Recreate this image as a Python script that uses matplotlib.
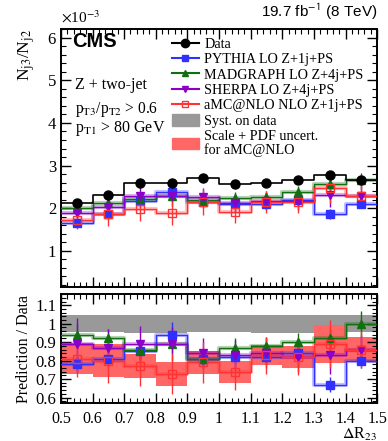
import numpy as np
import matplotlib.pyplot as plt
from matplotlib.lines import Line2D
from matplotlib.patches import Patch
from matplotlib.ticker import MultipleLocator

plt.rcParams['font.family'] = ['Liberation Serif', 'DejaVu Serif']
plt.rcParams['mathtext.fontset'] = 'stix'

# bins in delta R_23
edges = np.round(np.arange(0.5, 1.51, 0.1), 2)
centers = 0.5 * (edges[:-1] + edges[1:])

# N_j3/N_j2 (x 1e-3)
data = [2.13, 2.32, 2.58, 2.58, 2.72, 2.57, 2.60, 2.65, 2.79, 2.66]
pythia = [1.65, 1.87, 2.17, 2.39, 2.15, 2.10, 2.10, 2.20, 1.87, 2.10]
madgraph = [2.00, 2.13, 2.22, 2.29, 2.20, 2.24, 2.27, 2.38, 2.56, 2.65]
sherpa = [1.88, 2.03, 2.29, 2.29, 2.26, 2.12, 2.16, 2.17, 2.31, 2.28]
amcnlo = [1.73, 1.86, 1.99, 1.88, 2.14, 1.90, 2.15, 2.15, 2.48, 2.29]

# prediction / data
r_pythia = [0.78, 0.81, 0.85, 0.94, 0.81, 0.82, 0.82, 0.84, 0.67, 0.80]
r_madgraph = [0.94, 0.92, 0.86, 0.89, 0.81, 0.87, 0.88, 0.90, 0.92, 1.00]
r_sherpa = [0.89, 0.87, 0.89, 0.89, 0.84, 0.83, 0.84, 0.82, 0.83, 0.86]
r_amcnlo = [0.81, 0.80, 0.77, 0.73, 0.79, 0.74, 0.83, 0.82, 0.89, 0.86]

# stat errors on the ratio
e_pythia = [0.04, 0.04, 0.04, 0.07, 0.04, 0.04, 0.04, 0.04, 0.04, 0.04]
e_madgraph = [0.06, 0.05, 0.05, 0.05, 0.05, 0.05, 0.05, 0.05, 0.05, 0.07]
e_sherpa = [0.14, 0.10, 0.10, 0.09, 0.08, 0.08, 0.08, 0.08, 0.10, 0.08]
e_amcnlo = [0.10, 0.12, 0.11, 0.11, 0.11, 0.10, 0.10, 0.10, 0.13, 0.10]

# bands
syst_data = [0.045, 0.045, 0.048, 0.048, 0.045, 0.045, 0.048, 0.048, 0.045, 0.045]
scale_pdf = [0.085, 0.09, 0.065, 0.065, 0.06, 0.06, 0.055, 0.06, 0.105, 0.07]

c_py = '#3030ff'
c_mg = '#107010'
c_sh = '#8a00c8'
c_amc = '#ff3333'

fig = plt.figure(figsize=(3.88, 4.41), dpi=100)
ax1 = fig.add_axes([0.157, 0.349, 0.815, 0.585])
ax2 = fig.add_axes([0.157, 0.086, 0.815, 0.247])


def step(ax, vals, color, lw=1.0):
    v = np.append(vals, vals[-1])
    ax.step(edges, v, where='post', color=color, lw=3, alpha=0.3, zorder=2)
    ax.step(edges, v, where='post', color=color, lw=lw, zorder=3)


def band(ax, center, half, color):
    c = np.asarray(center)
    h = np.asarray(half)
    ax.fill_between(edges, np.append(c - h, (c - h)[-1]), np.append(c + h, (c + h)[-1]),
                    step='post', color=color, lw=0, zorder=1)


# ---- top panel
for vals, rel, col, mk, mfc in [(pythia, e_pythia, c_py, 's', c_py),
                                (madgraph, e_madgraph, c_mg, '^', c_mg),
                                (sherpa, e_sherpa, c_sh, 'v', c_sh),
                                (amcnlo, e_amcnlo, c_amc, 's', 'none')]:
    step(ax1, vals, col)
    err = np.asarray(rel) * np.asarray(data)
    ax1.errorbar(centers, vals, yerr=err, fmt=mk, color=col, mfc=mfc, mec=col,
                 ms=5.5, elinewidth=1, capsize=0, zorder=4)

ax1.step(edges, np.append(data, data[-1]), where='post', color='black', lw=1.2, zorder=5)
ax1.errorbar(centers, data, yerr=0.03, fmt='o', color='black', ms=6.5, capsize=0, zorder=6)

ax1.set_xlim(0.5, 1.5)
ax1.set_ylim(0.15, 6.2)
ax1.set_xticklabels([])
ax1.set_ylabel(r'N$_{\rm j3}$/N$_{\rm j2}$', fontsize=12.5, loc='top', labelpad=8)
ax1.text(0.0, 1.015, r'$\times$10$^{-3}$', transform=ax1.transAxes, fontsize=11,
         ha='left', va='bottom')
ax1.text(0.036, 0.99, 'CMS', transform=ax1.transAxes, fontsize=14.5, fontweight='bold',
         family=['Liberation Sans'], ha='left', va='top')
ax1.text(1.0, 1.027, r'19.7 fb$^{\mathsf{-1}}$ (8 TeV)', transform=ax1.transAxes,
         fontsize=11, family=['Liberation Sans'], ha='right', va='bottom')
ax1.text(0.045, 0.767, 'Z + two-jet', transform=ax1.transAxes, fontsize=11.5,
         ha='left', va='baseline')
ax1.text(0.045, 0.674, r'p$_{\rm T3}$/p$_{\rm T2}$ > 0.6', transform=ax1.transAxes,
         fontsize=11.2, ha='left', va='baseline')
ax1.text(0.045, 0.60, r'p$_{\rm T1}$ > 80 GeV', transform=ax1.transAxes,
         fontsize=11.5, ha='left', va='baseline')

handles = [
    Line2D([], [], color='black', marker='o', ms=6),
    Line2D([], [], color=c_py, marker='s', ms=5),
    Line2D([], [], color=c_mg, marker='^', ms=5),
    Line2D([], [], color=c_sh, marker='v', ms=5),
    Line2D([], [], color=c_amc, marker='s', ms=5, mfc='none'),
    Patch(color='#999999'),
    Patch(color='#ff6666'),
]
labels = ['Data', 'PYTHIA LO Z+1j+PS', 'MADGRAPH LO Z+4j+PS', 'SHERPA LO Z+4j+PS',
          'aMC@NLO NLO Z+1j+PS', 'Syst. on data', 'Scale + PDF uncert.\nfor aMC@NLO']
leg = ax1.legend(handles, labels, loc='upper left', bbox_to_anchor=(0.35, 0.968),
                 frameon=False, fontsize=10.2, handlelength=1.9, handleheight=0.85,
                 handletextpad=0.4, labelspacing=0.13, borderaxespad=0, borderpad=0)
for t in leg.get_texts():
    t.set_linespacing(1.05)

# ---- ratio panel
band(ax2, np.ones(10), syst_data, '#999999')
band(ax2, r_amcnlo, scale_pdf, '#ff6666')
for vals, err, col, mk, mfc in [(r_pythia, e_pythia, c_py, 's', c_py),
                                (r_madgraph, e_madgraph, c_mg, '^', c_mg),
                                (r_sherpa, e_sherpa, c_sh, 'v', c_sh),
                                (r_amcnlo, e_amcnlo, c_amc, 's', 'none')]:
    step(ax2, vals, col)
    ax2.errorbar(centers, vals, yerr=err, fmt=mk, color=col, mfc=mfc, mec=col,
                 ms=5.5, elinewidth=1, capsize=0, zorder=4)

ax2.set_xlim(0.5, 1.5)
ax2.set_ylim(0.57, 1.16)
ax2.set_ylabel('Prediction / Data', fontsize=11.5, labelpad=2)
ax2.set_xlabel(r'$\Delta$R$_{23}$', fontsize=11.5, ha='right', va='top')
ax2.xaxis.set_label_coords(1.0, -0.205)
ax2.set_xticks(np.round(np.arange(0.5, 1.51, 0.1), 1))
ax2.set_xticklabels(['0.5', '0.6', '0.7', '0.8', '0.9', '1', '1.1', '1.2', '1.3', '1.4', '1.5'])
ax2.set_yticks([0.6, 0.7, 0.8, 0.9, 1.0, 1.1])
ax2.set_yticklabels(['0.6', '0.7', '0.8', '0.9', '1', '1.1'])

ax1.xaxis.set_major_locator(MultipleLocator(0.1))
ax1.xaxis.set_minor_locator(MultipleLocator(0.02))
ax1.yaxis.set_major_locator(MultipleLocator(1))
ax1.yaxis.set_minor_locator(MultipleLocator(0.2))
ax2.xaxis.set_minor_locator(MultipleLocator(0.02))
ax2.yaxis.set_minor_locator(MultipleLocator(0.02))

for ax in (ax1, ax2):
    ax.tick_params(which='both', direction='in', top=True, right=True, labelsize=12)
    ax.tick_params(which='major', length=7, width=1)
    ax.tick_params(which='minor', length=3.5, width=0.8)
    for s in ax.spines.values():
        s.set_linewidth(1.4)
ax2.tick_params(axis='x', pad=5.5, labelsize=11.5)

fig.savefig('out.png', dpi=100)
